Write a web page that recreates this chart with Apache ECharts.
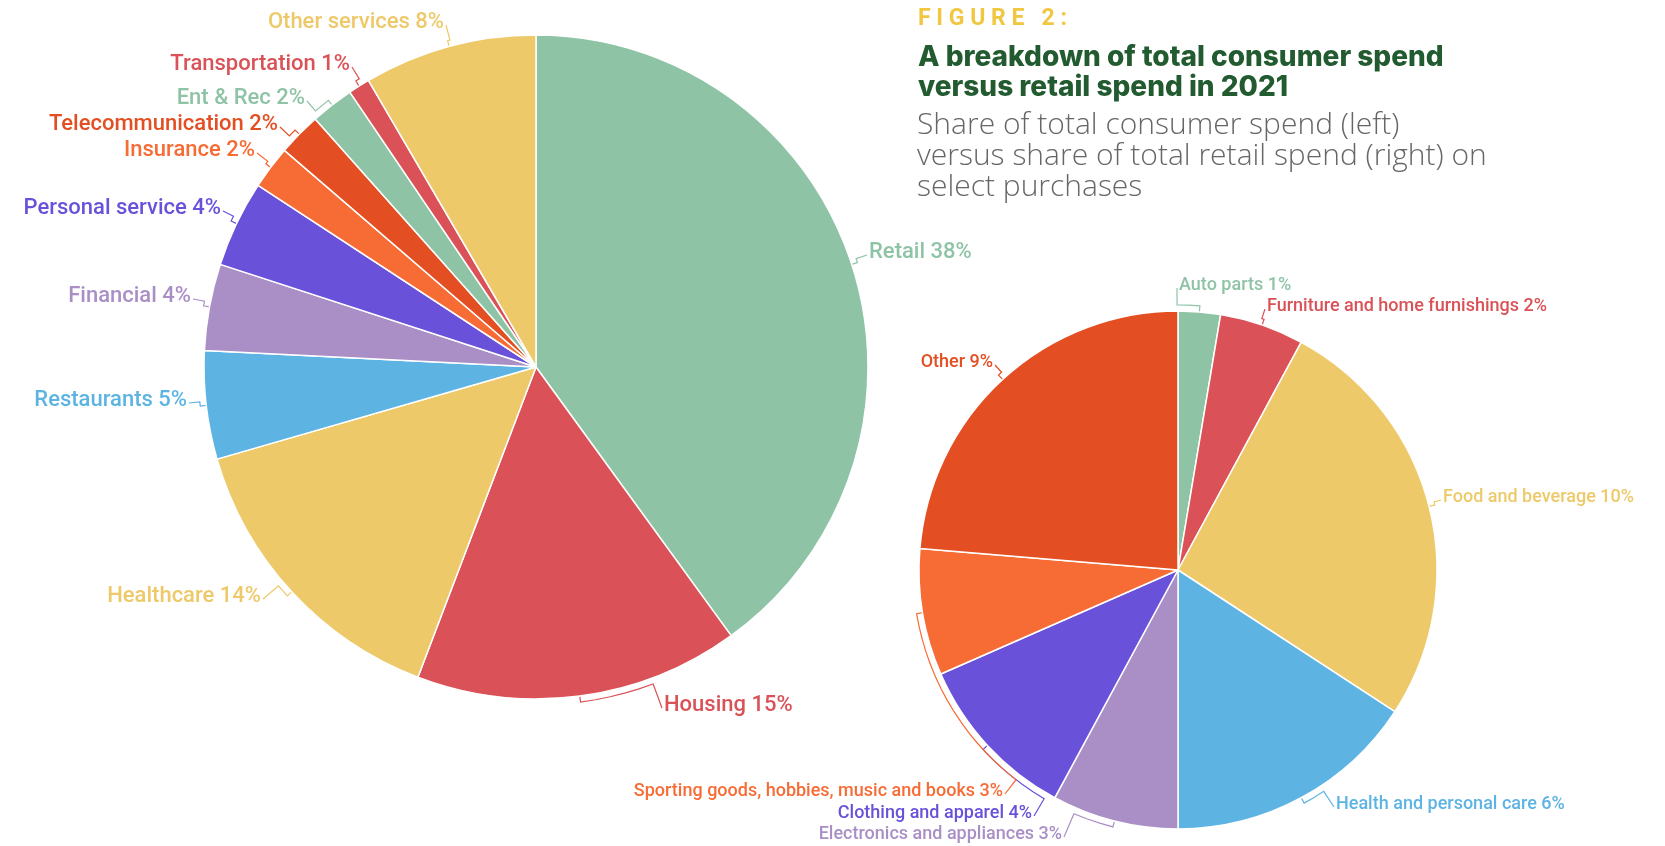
<!DOCTYPE html>
<html>
<head>
<meta charset="utf-8">
<script src="https://cdn.jsdelivr.net/npm/echarts@6/dist/echarts.min.js"></script>
<style>
  html, body { margin: 0; padding: 0; background: #fff; }
  #chart { width: 1665px; height: 846px; }
</style>
</head>
<body>
<div id="chart"></div>
<script>
// ---- Data ----
const figureLabel = 'FIGURE 2:';
const titleText = 'A breakdown of total consumer spend\nversus retail spend in 2021';
const subtitleText = 'Share of total consumer spend (left)\nversus share of total retail spend (right) on\nselect purchases';

const consumerCategories = ['Retail', 'Housing', 'Healthcare', 'Restaurants', 'Financial', 'Personal service', 'Insurance', 'Telecommunication', 'Ent & Rec', 'Transportation', 'Other services'];
const consumerValues = [38, 15, 14, 5, 4, 4, 2, 2, 2, 1, 8];

const retailCategories = ['Auto parts', 'Furniture and home furnishings', 'Food and beverage', 'Health and personal care', 'Electronics and appliances', 'Clothing and apparel', 'Sporting goods, hobbies, music and books', 'Other'];
const retailValues = [1, 2, 10, 6, 3, 4, 3, 9];

// ---- Styles ----
const consumerColors = ['#8FC3A6', '#DA5257', '#EDC969', '#5DB4E3', '#A98FC6', '#6A51DA', '#F76B35', '#E34F22', '#8FC3A6', '#DA5257', '#EDC969'];
const retailColors = ['#8FC3A6', '#DA5257', '#EDC969', '#5DB4E3', '#A98FC6', '#6A51DA', '#F76B35', '#E34F22'];

const leftPie = { cx: 536, cy: 367, r: 332 };
const rightPie = { cx: 1178, cy: 570, r: 259 };

// label placement (x, y, align) for each slice label
const consumerLabelPlace = [
  [869, 252, 'left'], [664, 705, 'left'], [261, 596, 'right'], [187, 400, 'right'],
  [191, 296, 'right'], [221, 208, 'right'], [255, 150, 'right'], [278, 124, 'right'],
  [305, 98, 'right'], [350, 64, 'right'], [444, 22, 'right']
];
const retailLabelPlace = [
  [1179, 285, 'left'], [1267, 306, 'left'], [1443, 497, 'left'], [1336, 804, 'left'],
  [1062, 834, 'right'], [1032, 813, 'right'], [1003, 791, 'right'], [993, 362, 'right']
];

function buildData(cats, vals, cols) {
  return cats.map((c, i) => ({
    name: c,
    value: vals[i],
    itemStyle: { color: cols[i] },
    label: { color: cols[i] },
    labelLine: { lineStyle: { color: cols[i] } }
  }));
}

function polar(p, r, deg) {
  const a = deg * Math.PI / 180;
  return [p.cx + r * Math.sin(a), p.cy - r * Math.cos(a)];
}
function angleOf(p, pt) {
  let a = Math.atan2(pt[0] - p.cx, -(pt[1] - p.cy)) * 180 / Math.PI;
  if (a < 0) a += 360;
  return a;
}
function midAngles(vals) {
  const total = vals.reduce((s, v) => s + v, 0);
  let cum = 0;
  return vals.map(v => { const m = (cum + v / 2) / total * 360; cum += v; return m; });
}

function makeLayout(pie, vals, places) {
  const mids = midAngles(vals);
  return function (params) {
    const i = params.dataIndex;
    const pl = places[i];
    if (!pl) return {};
    const [x, y, align] = pl;
    const anchor = [align === 'left' ? x - 2 : x + 2, y + 3];
    const mid = mids[i];
    const gap = 6;
    const pts = [polar(pie, pie.r, mid)];
    let d = angleOf(pie, anchor) - mid;
    if (d > 180) d -= 360;
    if (d < -180) d += 360;
    const n = Math.max(1, Math.ceil(Math.abs(d) / 3));
    for (let k = 0; k <= n; k++) pts.push(polar(pie, pie.r + gap, mid + d * k / n));
    pts.push(anchor);
    return { x: x, y: y, align: align, verticalAlign: 'middle', labelLinePoints: pts, hideOverlap: false, moveOverlap: null };
  };
}

const chart = echarts.init(document.getElementById('chart'), null, { renderer: 'canvas' });

const option = {
  animation: false,
  backgroundColor: '#ffffff',
  title: [
    {
      text: figureLabel.split('').join(' '),
      left: 913, top: 3,
      textStyle: { fontFamily: 'Roboto', fontWeight: 'bold', fontSize: 23, color: '#F1C640' }
    },
    {
      text: titleText,
      left: 913, top: 38,
      textStyle: { fontFamily: 'Inter', fontWeight: 800, fontSize: 28, lineHeight: 30, color: '#235B31' }
    },
    {
      text: subtitleText,
      left: 912, top: 105,
      textStyle: { fontFamily: 'Open Sans', fontWeight: 300, fontSize: 30, lineHeight: 31, color: '#666666' }
    }
  ],
  series: [
    {
      type: 'pie',
      center: [leftPie.cx, leftPie.cy],
      radius: leftPie.r,
      startAngle: 90,
      clockwise: true,
      avoidLabelOverlap: false,
      itemStyle: { borderColor: '#ffffff', borderWidth: 1.5 },
      label: {
        show: true,
        position: 'outside',
        formatter: '{b} {c}%',
        fontFamily: 'Roboto',
        fontWeight: 500,
        fontSize: 22
      },
      labelLine: { show: true, length: 8, length2: 10, lineStyle: { width: 1.2 } },
      labelLayout: makeLayout(leftPie, consumerValues, consumerLabelPlace),
      emphasis: { disabled: true },
      data: buildData(consumerCategories, consumerValues, consumerColors)
    },
    {
      type: 'pie',
      center: [rightPie.cx, rightPie.cy],
      radius: rightPie.r,
      startAngle: 90,
      clockwise: true,
      avoidLabelOverlap: false,
      itemStyle: { borderColor: '#ffffff', borderWidth: 1.5 },
      label: {
        show: true,
        position: 'outside',
        formatter: '{b} {c}%',
        fontFamily: 'Roboto',
        fontWeight: 500,
        fontSize: 18
      },
      labelLine: { show: true, length: 8, length2: 10, lineStyle: { width: 1.2 } },
      labelLayout: makeLayout(rightPie, retailValues, retailLabelPlace),
      emphasis: { disabled: true },
      data: buildData(retailCategories, retailValues, retailColors)
    }
  ]
};

chart.setOption(option);
</script>
</body>
</html>
